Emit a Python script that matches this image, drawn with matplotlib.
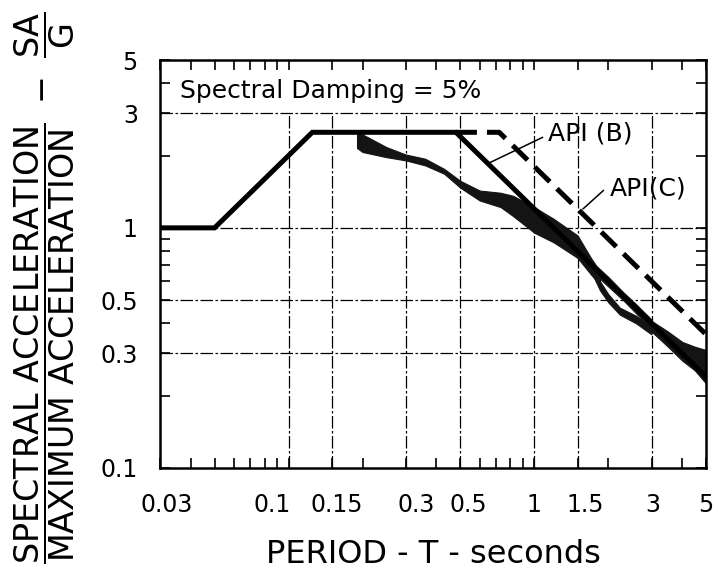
import matplotlib
matplotlib.use("Agg")
import matplotlib.pyplot as plt
import matplotlib.transforms as mtransforms
from matplotlib.ticker import FixedLocator, NullFormatter

# API design curves (period T in s, SA/G)
api_b_T = [0.03, 0.05, 0.125, 0.48, 5.0]
api_b_SA = [1.0, 1.0, 2.5, 2.5, 0.24]
api_c_T = [0.48, 0.72, 5.0]
api_c_SA = [2.5, 2.5, 0.36]

# measured spectra envelope (shaded band), split where it forks
band_T = [0.19, 0.2, 0.25, 0.3, 0.36, 0.43, 0.5, 0.6, 0.73, 0.82, 1.0, 1.2, 1.5, 1.7, 1.85]
band_hi = [2.5, 2.45, 2.17, 2.02, 1.94, 1.76, 1.57, 1.43, 1.40, 1.36, 1.22, 1.09, 0.93, 0.75, 0.66]
band_lo = [2.15, 2.07, 1.97, 1.91, 1.82, 1.68, 1.47, 1.30, 1.22, 1.12, 0.955, 0.87, 0.75, 0.64, 0.58]

upper_T = [1.8, 2.0, 2.3, 2.6, 3.0]
upper_hi = [0.69, 0.625, 0.54, 0.48, 0.415]
upper_lo = [0.63, 0.57, 0.50, 0.44, 0.38]

lower_T = [1.75, 1.85, 2.0, 2.23, 2.6, 3.0]
lower_hi = [0.67, 0.60, 0.53, 0.465, 0.43, 0.39]
lower_lo = [0.62, 0.55, 0.49, 0.435, 0.40, 0.36]

tail_T = [2.9, 3.0, 3.5, 4.0, 4.5, 5.0]
tail_hi = [0.43, 0.41, 0.37, 0.335, 0.32, 0.31]
tail_lo = [0.40, 0.37, 0.32, 0.28, 0.255, 0.225]

x_ticks = [0.03, 0.1, 0.15, 0.3, 0.5, 1, 1.5, 3, 5]
x_labels = ['0.03', '0.1', '0.15', '0.3', '0.5', '1', '1.5', '3', '5']
y_ticks = [0.1, 0.3, 0.5, 1, 3, 5]
y_labels = ['0.1', '0.3', '0.5', '1', '3', '5']
x_grid = [0.1, 0.15, 0.3, 0.5, 1, 1.5, 3]
y_grid = [0.3, 0.5, 1, 3]
x_minor = [0.04, 0.05, 0.06, 0.07, 0.08, 0.09, 0.2, 0.4, 0.6, 0.7, 0.8, 0.9, 2, 4]
y_minor = [0.2, 0.4, 0.6, 0.7, 0.8, 0.9, 2, 4]
# hand lettering sits a little off the ticks (pixels)
x_label_shift = [7, -16, 5, 10, 8, 0, 8, 1, 0]

fig = plt.figure(figsize=(7.17, 5.71), dpi=100)
ax = fig.add_axes([0.2232, 0.1804, 0.7615, 0.7145])
ax.set_xscale('log')
ax.set_yscale('log')
ax.set_xlim(0.03, 5)
ax.set_ylim(0.1, 5)

# vertical grid stops at the 3 line, the box above holds the damping note
grid_style = dict(color='k', lw=0.9, ls=(0, (10, 2, 2, 2)), zorder=1)
ax.vlines(x_grid, 0.1, 3, **grid_style)
for gy in y_grid:
    ax.axhline(gy, **grid_style)

band_col = '0.08'
for T, hi, lo in [(band_T, band_hi, band_lo), (upper_T, upper_hi, upper_lo),
                  (lower_T, lower_hi, lower_lo), (tail_T, tail_hi, tail_lo)]:
    ax.fill_between(T, lo, hi, color=band_col, lw=0.8, zorder=2)

ax.plot(api_b_T, api_b_SA, color='k', lw=3.6, solid_joinstyle='miter', zorder=3)
ax.plot(api_c_T, api_c_SA, color='k', lw=3.6, dashes=(4.2, 2.0), zorder=3)

# labels with leader lines
ax.plot([0.66, 1.08], [1.87, 2.38], color='k', lw=1.1, zorder=3)
ax.text(1.14, 2.47, 'API (B)', fontsize=18, ha='left', va='center')
ax.plot([1.58, 1.91], [1.20, 1.43], color='k', lw=1.1, zorder=3)
ax.text(2.03, 1.46, 'API(C)', fontsize=18, ha='left', va='center')

ax.text(0.037, 0.924, 'Spectral Damping = 5%', fontsize=18, transform=ax.transAxes,
        ha='left', va='center')

ax.xaxis.set_major_locator(FixedLocator(x_ticks))
ax.set_xticklabels(x_labels)
ax.yaxis.set_major_locator(FixedLocator(y_ticks))
ax.set_yticklabels(y_labels)
ax.xaxis.set_minor_locator(FixedLocator(x_minor))
ax.yaxis.set_minor_locator(FixedLocator(y_minor))
ax.xaxis.set_minor_formatter(NullFormatter())
ax.yaxis.set_minor_formatter(NullFormatter())
ax.tick_params(which='both', direction='in', length=7, width=1.2,
               top=True, right=True)
ax.tick_params(which='major', labelsize=17, pad=18)
ax.tick_params(axis='y', which='major', pad=16)
for s in ax.spines.values():
    s.set_linewidth(1.8)
for lab, dx in zip(ax.get_xticklabels(), x_label_shift):
    lab.set_transform(lab.get_transform() +
                      mtransforms.ScaledTranslation(dx / 100, 0, fig.dpi_scale_trans))

ax.set_xlabel('PERIOD - T - seconds', fontsize=23, labelpad=16)
fig.text(0.063, 0.496,
         r'$\dfrac{\mathrm{SPECTRAL\ ACCELERATION}}{\mathrm{MAXIMUM\ ACCELERATION}}'
         r'\ -\ \dfrac{\mathrm{SA}}{\mathrm{G}}$',
         fontsize=24, rotation=90, ha='center', va='center')

fig.savefig('out.png', dpi=100)
